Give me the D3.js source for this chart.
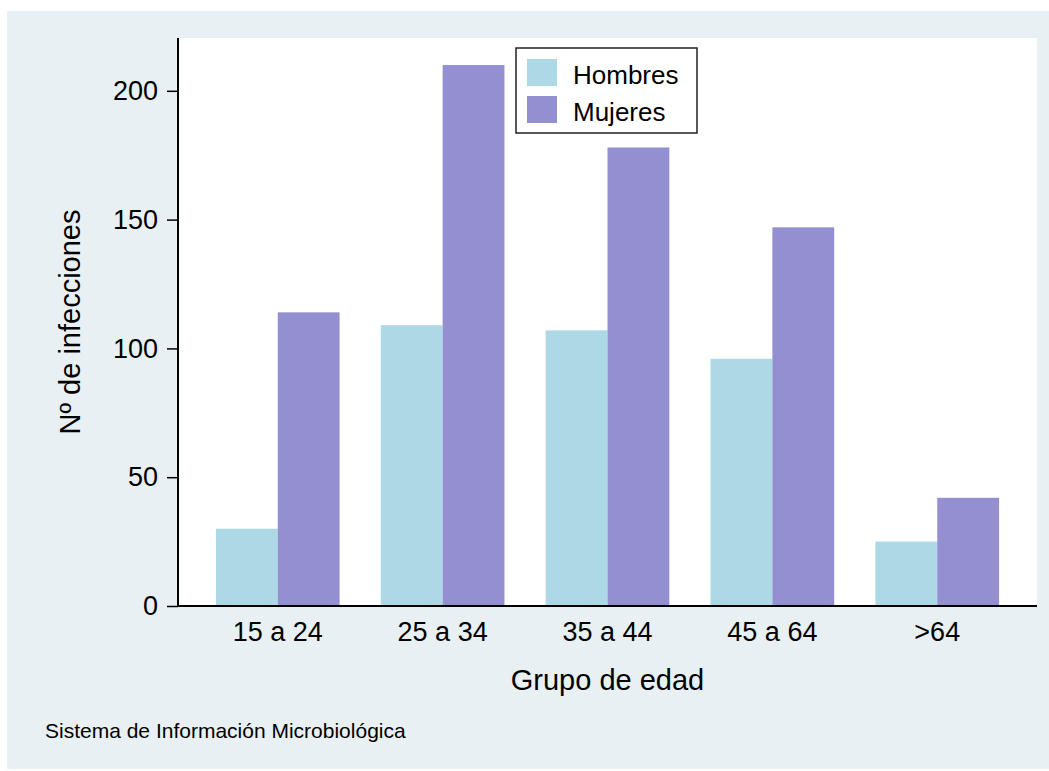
<!DOCTYPE html>
<html>
<head>
<meta charset="utf-8">
<script src="https://cdn.jsdelivr.net/npm/d3@7"></script>
<style>
  html, body { margin: 0; padding: 0; background: #ffffff; }
  svg { display: block; }
  text { font-family: "Liberation Sans", Arial, Helvetica, sans-serif; fill: #000; }
</style>
</head>
<body>
<script>
// ---- data ----
const categories = ["15 a 24", "25 a 34", "35 a 44", "45 a 64", ">64"];
const seriesNames = ["Hombres", "Mujeres"];
const hombres = [30, 109, 107, 96, 25];
const mujeres = [114, 210, 178, 147, 42];
const yTicks = [0, 50, 100, 150, 200];
const xTitle = "Grupo de edad";
const yTitle = "Nº de infecciones";
const note = "Sistema de Información Microbiológica";

const seriesValues = [hombres, mujeres];
const colors = ["#add8e6", "#938fd1"];

const W = 1049, H = 771;
const svg = d3.select("body").append("svg").attr("width", W).attr("height", H);

// background panels
svg.append("rect").attr("x", 7).attr("y", 11).attr("width", W - 7).attr("height", H - 13).attr("fill", "#e8f0f3");

const plot = { left: 178, right: 1037, top: 38, bottom: 606 };
svg.append("rect").attr("x", plot.left).attr("y", plot.top)
  .attr("width", plot.right - plot.left).attr("height", plot.bottom - plot.top).attr("fill", "#ffffff");

const x0 = d3.scaleBand().domain(categories).range([plot.left, plot.right])
  .paddingInner(0.25).paddingOuter(0.23);
const x1 = d3.scaleBand().domain(seriesNames).range([0, x0.bandwidth()]).padding(0);
const y = d3.scaleLinear().domain([0, 220.5]).range([plot.bottom, plot.top]);

// bars
const rows = [];
categories.forEach((c, i) => seriesNames.forEach((s, j) => rows.push({ c, s, v: seriesValues[j][i], j })));
svg.append("g").selectAll("rect").data(rows).join("rect")
  .attr("x", d => x0(d.c) + x1(d.s))
  .attr("y", d => y(d.v))
  .attr("width", x1.bandwidth())
  .attr("height", d => y(0) - y(d.v))
  .attr("fill", d => colors[d.j]);

// y axis
const yAxis = svg.append("g").attr("transform", `translate(${plot.left},0)`)
  .call(d3.axisLeft(y).tickValues(yTicks).tickSize(11).tickPadding(9).tickSizeOuter(0));
yAxis.select(".domain").attr("stroke", "#000").attr("stroke-width", 2)
  .attr("d", `M0,${plot.top}V${plot.bottom}`);
yAxis.selectAll(".tick line").attr("stroke", "#000").attr("stroke-width", 1.5);
yAxis.selectAll(".tick text").attr("font-size", 27).attr("font-family", "Liberation Sans, Arial, sans-serif").attr("fill", "#000");

// x axis
const xAxis = svg.append("g").attr("transform", `translate(0,${plot.bottom})`)
  .call(d3.axisBottom(x0).tickSize(0).tickPadding(16).tickSizeOuter(0));
xAxis.select(".domain").attr("stroke", "#000").attr("stroke-width", 2)
  .attr("d", `M${plot.left - 1},0H${plot.right}`);
xAxis.selectAll(".tick text").attr("font-size", 27).attr("font-family", "Liberation Sans, Arial, sans-serif").attr("fill", "#000");

// axis titles
svg.append("text").attr("x", (plot.left + plot.right) / 2).attr("y", 690)
  .attr("text-anchor", "middle").attr("font-size", 29).text(xTitle);
svg.append("text").attr("transform", `translate(80,${(plot.top + plot.bottom) / 2}) rotate(-90)`)
  .attr("text-anchor", "middle").attr("font-size", 29).text(yTitle);

// note
svg.append("text").attr("x", 45).attr("y", 738).attr("font-size", 21).text(note);

// legend
const lg = svg.append("g").attr("transform", "translate(516,48)");
lg.append("rect").attr("width", 181).attr("height", 85).attr("fill", "#fff")
  .attr("stroke", "#222").attr("stroke-width", 1.5);
const items = lg.selectAll("g.item").data(seriesNames).join("g").attr("class", "item")
  .attr("transform", (d, i) => `translate(11,${11 + i * 37})`);
items.append("rect").attr("width", 30).attr("height", 27).attr("fill", (d, i) => colors[i]);
items.append("text").attr("x", 46).attr("y", 24.5).attr("font-size", 26).text(d => d);
</script>
</body>
</html>
